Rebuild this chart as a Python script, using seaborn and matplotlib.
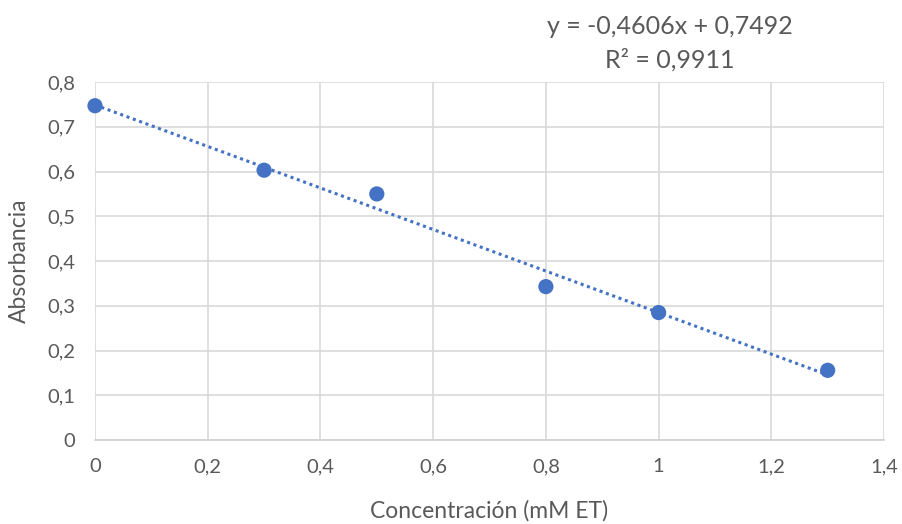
import numpy as np
import pandas as pd
import seaborn as sns
import matplotlib.pyplot as plt
from matplotlib.ticker import FuncFormatter, MultipleLocator

# data
concentracion = [0.0, 0.3, 0.5, 0.8, 1.0, 1.3]
absorbancia = [0.747, 0.603, 0.550, 0.343, 0.285, 0.156]
slope = -0.4606
intercept = 0.7492
r2 = 0.9911

df = pd.DataFrame({'x': concentracion, 'y': absorbancia})

sns.set_style('white')
plt.rcParams['font.family'] = ['Lato', 'DejaVu Sans']

blue = '#4472C4'
grey = '#595959'

fig = plt.figure(figsize=(9.03, 5.24), dpi=100)
ax = fig.add_axes([0.1052, 0.160, 0.8738, 0.6835])

sns.regplot(data=df, x='x', y='y', ax=ax, ci=None, scatter=False,
            line_kws={'color': blue, 'linestyle': (0, (1, 1.2)), 'linewidth': 2.2})
sns.scatterplot(data=df, x='x', y='y', ax=ax, color=blue, s=120,
                edgecolor='none', zorder=5, clip_on=False)

ax.set_xlim(0, 1.4)
ax.set_ylim(0, 0.8)
ax.xaxis.set_major_locator(MultipleLocator(0.2))
ax.yaxis.set_major_locator(MultipleLocator(0.1))

def comma(v, pos):
    s = f'{v:.1f}'
    if s.endswith('.0'):
        s = s[:-2]
    return s.replace('.', ',')

ax.xaxis.set_major_formatter(FuncFormatter(comma))
ax.yaxis.set_major_formatter(FuncFormatter(comma))

ax.grid(True, color='#d9d9d9', linewidth=1.2)
ax.set_axisbelow(True)
for side in ['top', 'right', 'left']:
    ax.spines[side].set_visible(False)
ax.spines['bottom'].set_color('#d0d0d0')
ax.spines['bottom'].set_linewidth(1.2)

ax.tick_params(axis='both', length=0, labelsize=14.5, labelcolor=grey)
ax.tick_params(axis='x', pad=13)
ax.tick_params(axis='y', pad=14)

ax.set_xlabel('Concentración (mM ET)', fontsize=16.5, color=grey)
ax.set_ylabel('Absorbancia', fontsize=16.5, color=grey)
ax.xaxis.set_label_coords(0.50, -0.168)
ax.yaxis.set_label_coords(-0.082, 0.50)

eq = f'y = {slope:.4f}x + {intercept:.4f}'.replace('.', ',')
fig.text(670 / 903, 1 - 27 / 524, eq, ha='center', va='center',
         fontsize=18, color=grey)
fig.text(670 / 903, 1 - 60 / 524, f'R² = {r2:.4f}'.replace('.', ','),
         ha='center', va='center', fontsize=18, color=grey)

fig.savefig('out.png', dpi=100)
